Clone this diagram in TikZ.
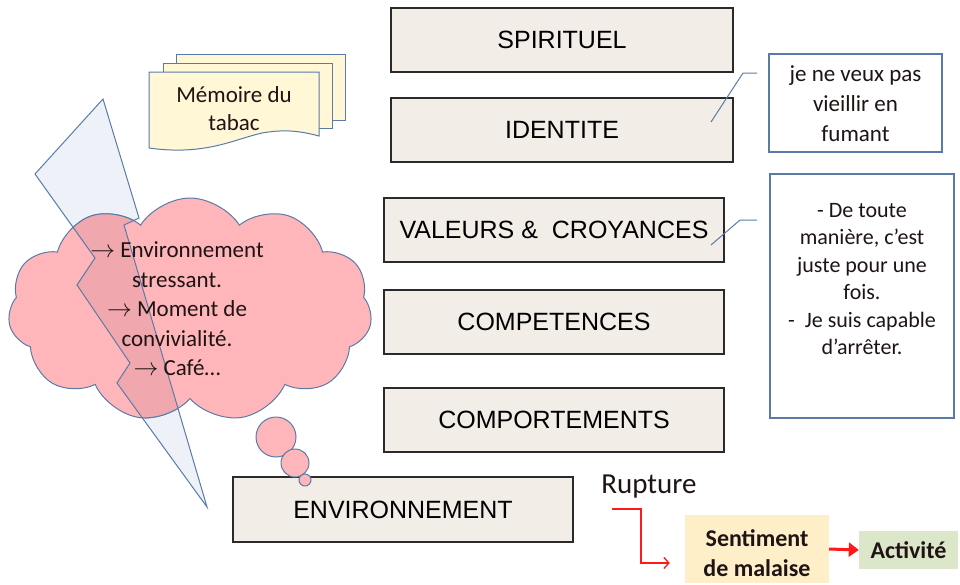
\documentclass[tikz,border=0pt]{standalone}
\usepackage{fontspec}
\setmainfont{Carlito}
\newfontfamily\arialf{Liberation Sans}
\usetikzlibrary{shapes.symbols,arrows.meta}
\definecolor{boxfill}{HTML}{F2EDE7}
\definecolor{boxline}{HTML}{2A2A2A}
\definecolor{blueline}{HTML}{5A7BA8}
\definecolor{cloudpink}{HTML}{FFB6BA}
\definecolor{clouddark}{HTML}{F0A8AE}
\definecolor{boltfill}{HTML}{EEF2F8}
\definecolor{cardfill}{HTML}{FFF7D6}
\definecolor{sentfill}{HTML}{FEEFC8}
\definecolor{actfill}{HTML}{DCE6C8}
\definecolor{arrred}{HTML}{FF1A1A}
\definecolor{txt}{HTML}{1E1414}
\newcommand{\arr}{$\rightarrow$}
\begin{document}
\begin{tikzpicture}[x=1pt,y=-1pt,
  level/.style={draw=boxline, fill=boxfill, line width=1.4pt, rectangle,
    font=\arialf\fontsize{25}{30}\selectfont, text=black, inner sep=0pt, minimum height=64pt},
  callout/.style={draw=blueline, fill=white, line width=1.1pt, rectangle, inner sep=0pt},
  ctext/.style={align=center, text=txt, font=\fontsize{23}{28}\selectfont, inner sep=0pt},
  card/.style={draw=blueline, fill=cardfill, line width=1pt},
  cloudshape/.style={cloud, cloud puffs=11, cloud puff arc=115, aspect=1.62,
    minimum width=364pt, minimum height=224pt, inner sep=0pt},
  bubble/.style={circle, draw=blueline, fill=cloudpink, line width=1pt, inner sep=0pt},
  thinline/.style={draw=blueline, line width=1pt}
]
\useasboundingbox (0,0) rectangle (960,584);

% memory cards
\draw[card] (176,54) rectangle (345,120);
\draw[card] (163,63) rectangle (332,128);
\draw[card] (149,72) -- (319,72) -- (319,136) .. controls (300,131) and (285,129) .. (262,133)
  .. controls (235,139) and (205,156) .. (149,148) -- cycle;
\node[ctext] (mem) at (234,109) {Mémoire du\\tabac};

% lightning bolt (fill below cloud)
\def\boltpath{(103,99) -- (139,218) -- (124,225) -- (207,507) -- (117,383) -- (130,363) -- (77,285) -- (95,258) -- (35,174) -- cycle}
\fill[boltfill] \boltpath;

% cloud
\node[cloudshape, draw=blueline, fill=cloudpink, line width=1pt] (cl) at (190,310) {};
\begin{scope}
  \clip \boltpath;
  \node[cloudshape, draw=blueline, fill=clouddark, line width=1pt] at (190,310) {};
\end{scope}
\draw[blueline, line width=1pt, line join=miter] \boltpath;

\node[ctext, font=\fontsize{23}{29.5}\selectfont] (cltxt) at (177,309)
  {\arr\ Environnement\\stressant.\\\arr\ Moment de\\convivialité.\\\arr\ Café…};

% levels
\node[level, minimum width=342pt] (spi) at (562,40) {SPIRITUEL};
\node[level, minimum width=342pt] (idn) at (562,130) {IDENTITE};
\node[level, minimum width=340pt] (val) at (554,230) {VALEURS \& \ CROYANCES};
\node[level, minimum width=340pt] (cmp) at (554,322) {COMPETENCES};
\node[level, minimum width=340pt] (cpt) at (554,420) {COMPORTEMENTS};
\node[level, minimum width=340pt, minimum height=65pt] (env) at (403,509.5) {ENVIRONNEMENT};

% thought bubbles
\node[bubble, minimum size=40pt] (b1) at (276,437) {};
\node[bubble, minimum size=28pt] (b2) at (295,463) {};
\node[bubble, minimum size=12pt] (b3) at (305,480) {};

% callouts
\node[callout, minimum width=173pt, minimum height=98pt] (c1) at (855.5,103) {};
\node[ctext, font=\fontsize{23}{30}\selectfont] (c1t) at (855.5,104) {je ne veux pas\\vieillir en\\fumant};
\node[callout, minimum width=184pt, minimum height=244pt] (c2) at (862,296) {};
\node[ctext, font=\fontsize{22}{27.5}\selectfont] (c2t) at (862,279)
  {- De toute\\manière, c’est\\juste pour une\\fois.\\-\ \ Je suis capable\\d’arrêter.};

\coordinate (c1a) at (711,122);
\coordinate (c1b) at (743,73);
\coordinate (c1c) at (757,73);
\draw[thinline] (c1a) -- (c1b) -- (c1c);
\coordinate (c2a) at (711,245);
\coordinate (c2b) at (740,220);
\coordinate (c2c) at (757,220);
\draw[thinline] (c2a) -- (c2b) -- (c2c);

% bottom chain
\node[text=txt, font=\fontsize{29}{34}\selectfont, inner sep=0pt] (rup) at (649,487) {Rupture};
\node[rectangle, fill=sentfill, minimum width=144pt, minimum height=68pt, inner sep=0pt] (sent) at (757,549) {};
\node[ctext, font=\bfseries\fontsize{24}{30}\selectfont] (sentt) at (757,553) {Sentiment\\de malaise};
\node[rectangle, fill=actfill, minimum width=99pt, minimum height=38pt, inner sep=0pt,
  font=\bfseries\fontsize{24}{28}\selectfont, text=txt] (act) at (908.5,550) {Activité};

\coordinate (r0) at (612,509);
\coordinate (r1) at (641,509);
\draw[arrred, line width=1.3pt, -{Straight Barb[length=5pt,width=11pt]}, shorten >=15pt]
  (r0) -- (r1) |- ([yshift=-14pt]sent.west);
\draw[arrred, line width=3pt, -{Triangle[length=10pt,width=14pt]}] (sent.east) -- (act.west);
\end{tikzpicture}
\end{document}
